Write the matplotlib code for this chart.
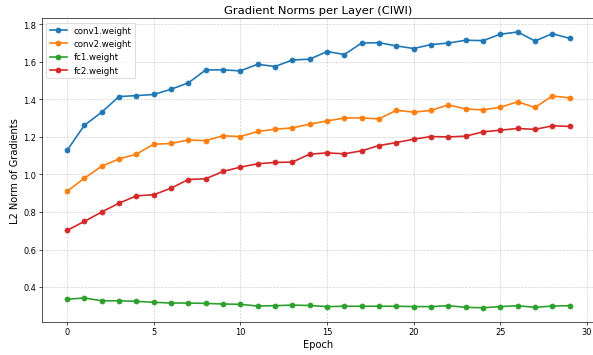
import matplotlib
matplotlib.use("Agg")
import matplotlib.pyplot as plt
import numpy as np

epochs = np.arange(30)

conv1_weight = [1.128, 1.262, 1.332, 1.415, 1.420, 1.426, 1.454, 1.488, 1.557, 1.557,
                1.552, 1.587, 1.575, 1.610, 1.614, 1.655, 1.639, 1.700, 1.702, 1.685,
                1.671, 1.692, 1.700, 1.715, 1.713, 1.747, 1.759, 1.711, 1.750, 1.725]
conv2_weight = [0.910, 0.980, 1.044, 1.083, 1.108, 1.161, 1.165, 1.184, 1.180, 1.206,
                1.202, 1.229, 1.241, 1.248, 1.268, 1.285, 1.301, 1.301, 1.296, 1.342,
                1.332, 1.341, 1.371, 1.349, 1.344, 1.358, 1.387, 1.357, 1.418, 1.408]
fc1_weight = [0.335, 0.342, 0.327, 0.327, 0.324, 0.319, 0.315, 0.315, 0.313, 0.310,
              0.308, 0.299, 0.301, 0.304, 0.302, 0.296, 0.298, 0.298, 0.298, 0.298,
              0.296, 0.296, 0.301, 0.292, 0.290, 0.296, 0.301, 0.292, 0.299, 0.301]
fc2_weight = [0.702, 0.750, 0.800, 0.847, 0.886, 0.892, 0.927, 0.973, 0.977, 1.016,
              1.039, 1.057, 1.064, 1.066, 1.108, 1.115, 1.110, 1.126, 1.154, 1.170,
              1.188, 1.202, 1.200, 1.204, 1.227, 1.236, 1.245, 1.240, 1.259, 1.256]

series = {
    "conv1.weight": conv1_weight,
    "conv2.weight": conv2_weight,
    "fc1.weight": fc1_weight,
    "fc2.weight": fc2_weight,
}

fig, ax = plt.subplots(figsize=(10, 6), dpi=59.3)
for name, values in series.items():
    ax.plot(epochs, values, marker="o", linewidth=2, markersize=6, label=name)

ax.set_xlabel("Epoch", fontsize=12)
ax.set_ylabel("L2 Norm of Gradients", fontsize=12)
ax.set_title("Gradient Norms per Layer (CIWI)", fontsize=14)
ax.grid(True, linestyle="--", alpha=0.6)
ax.legend(loc="upper left", fontsize=10.5)
fig.subplots_adjust(left=0.0707, right=1.003, top=0.9466, bottom=0.0941)
fig.savefig("out.png")
